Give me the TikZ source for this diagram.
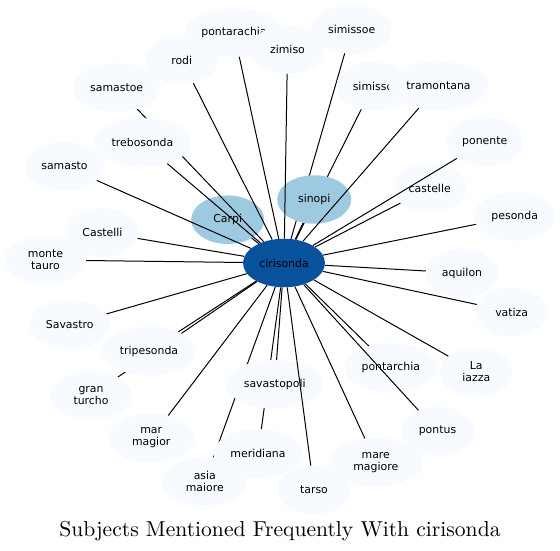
\documentclass[tikz,border=0pt]{standalone}
\usepackage{fontspec}
\newfontfamily\labfont{DejaVu Sans}
\newfontfamily\titlefont[Extension=.otf]{lmroman10-regular}
\usetikzlibrary{shapes.geometric}
\definecolor{nlight}{HTML}{F7FBFF}
\definecolor{nmid}{HTML}{9ECAE1}
\definecolor{ndark}{HTML}{08519C}
\pgfdeclarelayer{nodesback}
\pgfdeclarelayer{edgesback}
\pgfdeclarelayer{edgesfront}
\pgfdeclarelayer{hublayer}
\pgfsetlayers{nodesback,edgesback,main,edgesfront,hublayer}
\tikzset{
  bub/.style={ellipse, fill=nlight, inner sep=0pt, minimum height=48.5pt,
    font=\labfont\fontsize{10.9}{12}\selectfont, align=center, text=black},
  midbub/.style={bub, fill=nmid},
  hubbub/.style={bub, fill=ndark},
  link/.style={draw=black, line width=1pt},
  titlest/.style={anchor=base, font=\titlefont\fontsize{21.6}{26}\selectfont}
}
\begin{document}
\begin{tikzpicture}[x=1pt,y=-1pt]
\useasboundingbox (0,0) rectangle (560,550);
\begin{pgfonlayer}{nodesback}
  \fill[white] (0,0) rectangle (560,550);
  \node[bub, minimum width=81pt] (montetauro) at (45.5,260) {monte\\tauro};
  \node[midbub, minimum width=73pt] (carpi) at (227.7,219.7) {Carpi};
  \node[bub, minimum width=93pt] (pontarchia) at (390.8,367.5) {pontarchia};
  \node[bub, minimum width=74pt] (castelle) at (429.7,188) {castelle};
\end{pgfonlayer}
% main layer nodes
\node[bub, minimum width=98pt] (pontarachia) at (234,32.5) {pontarachia};
\node[bub, minimum width=73pt] (rodi) at (181.7,60) {rodi};
\node[bub, minimum width=74pt] (zimiso) at (287.5,49.5) {zimiso};
\node[bub, minimum width=80pt] (simissoe) at (351.7,29.2) {simissoe};
\node[bub, minimum width=73pt] (simisso) at (373,86) {simisso};
\node[bub, minimum width=100pt] (tramontana) at (438.5,85.5) {tramontana};
\node[bub, minimum width=77pt] (ponente) at (484.7,141.5) {ponente};
\node[bub, minimum width=81pt] (pesonda) at (514.7,216.5) {pesonda};
\node[bub, minimum width=72pt] (aquilon) at (462,273) {aquilon};
\node[bub, minimum width=73pt] (vatiza) at (511.7,312) {vatiza};
\node[bub, minimum width=73pt] (laiazza) at (476.3,372) {La\\iazza};
\node[bub, minimum width=73pt] (pontus) at (437.5,431.2) {pontus};
\node[bub, minimum width=95pt] (maremagiore) at (375.8,462.2) {mare\\magiore};
\node[bub, minimum width=73pt] (tarso) at (314,490) {tarso};
\node[bub, minimum width=85pt] (asiamaiore) at (204.8,481.3) {asia\\maiore};
\node[bub, minimum width=89pt] (meridiana) at (258,453.5) {meridiana};
\node[bub, minimum width=97pt] (savastopoli) at (274.7,384.2) {savastopoli};
\node[bub, minimum width=86pt] (marmagior) at (151.2,438) {mar\\magior};
\node[bub, minimum width=81pt] (granturcho) at (91,395.5) {gran\\turcho};
\node[bub, minimum width=94pt] (tripesonda) at (149,351) {tripesonda};
\node[bub, minimum width=81pt] (savastro) at (69.7,324.5) {Savastro};
\node[bub, minimum width=72pt] (castelli) at (102.5,232.5) {Castelli};
\node[bub, minimum width=79pt] (samasto) at (64.5,166.2) {samasto};
\node[bub, minimum width=87pt] (samastoe) at (116.7,87.5) {samastoe};
\node[bub, minimum width=97pt] (trebosonda) at (142.5,142.5) {trebosonda};
\node[midbub, minimum width=74pt] (sinopi) at (314.2,199.5) {sinopi};
\begin{pgfonlayer}{hublayer}
  \node[hubbub, minimum width=82pt] (cirisonda) at (284,263) {cirisonda};
\end{pgfonlayer}
\begin{pgfonlayer}{edgesback}
  \foreach \t in {samastoe,granturcho,asiamaiore,meridiana,simissoe,simisso}
    \draw[link] (cirisonda) -- (\t);
\end{pgfonlayer}
\begin{pgfonlayer}{edgesfront}
  \foreach \t in {rodi,pontarachia,zimiso,tramontana,ponente,castelle,pesonda,
    aquilon,vatiza,laiazza,pontarchia,pontus,maremagiore,tarso,savastopoli,
    marmagior,tripesonda,savastro,montetauro,castelli,samasto,trebosonda,carpi,sinopi}
    \draw[link] (cirisonda) -- (\t);
\end{pgfonlayer}
\node[titlest] (title) at (280,536.7) {Subjects Mentioned Frequently With cirisonda};
\end{tikzpicture}
\end{document}
